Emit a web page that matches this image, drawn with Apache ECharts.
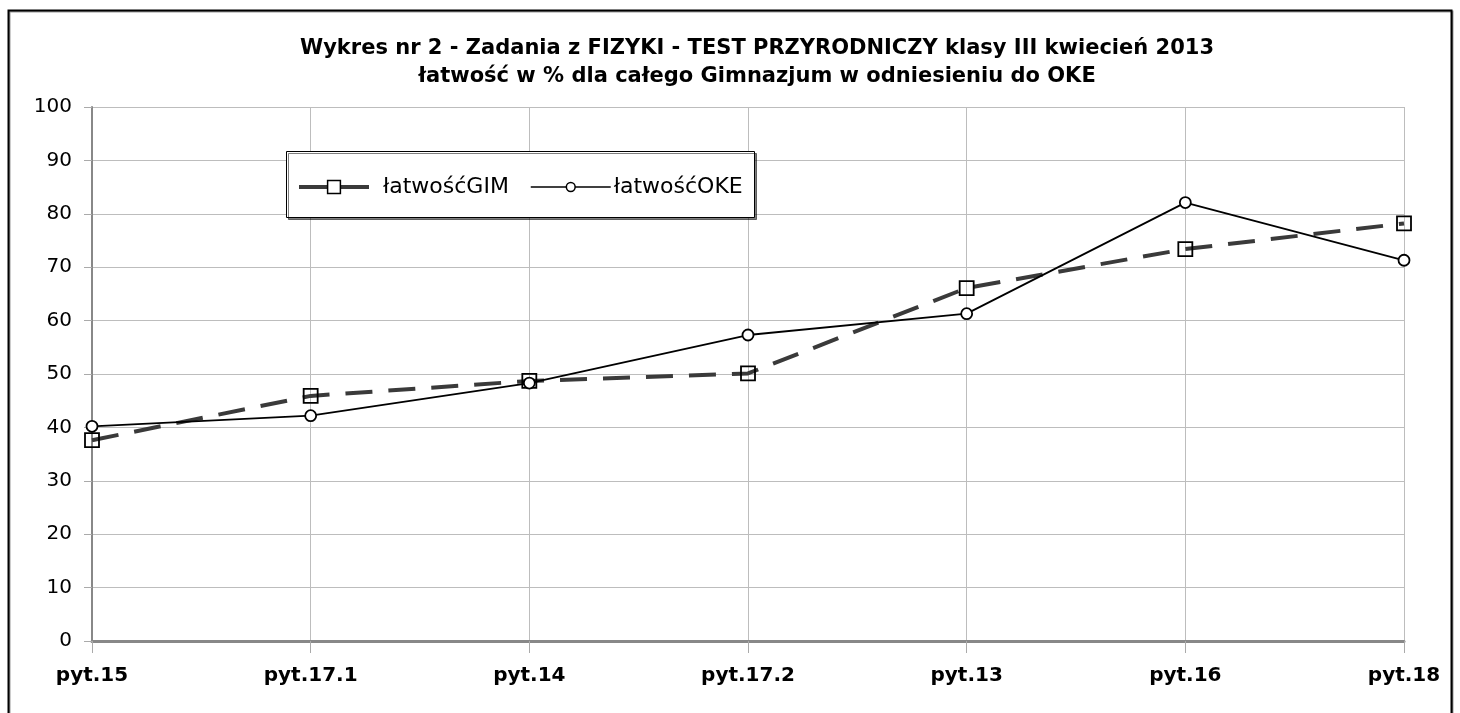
<!DOCTYPE html>
<html>
<head>
<meta charset="utf-8">
<script src="https://cdn.jsdelivr.net/npm/echarts@6/dist/echarts.min.js"></script>
<style>
html,body{margin:0;padding:0;background:#fff;}
#chart{width:1460px;height:713px;}
</style>
</head>
<body>
<div id="chart"></div>
<script>
const categories = ['pyt.15','pyt.17.1','pyt.14','pyt.17.2','pyt.13','pyt.16','pyt.18'];
const gimValues = [37.6, 45.9, 48.7, 50.1, 66.1, 73.4, 78.2];
const okeValues = [40.2, 42.2, 48.3, 57.3, 61.3, 82.1, 71.3];
const seriesNames = ['łatwośćGIM', 'łatwośćOKE'];
const titleText = 'Wykres nr 2 - Zadania z FIZYKI - TEST PRZYRODNICZY klasy III kwiecień 2013\nłatwość w % dla całego Gimnazjum w odniesieniu do OKE';

const chart = echarts.init(document.getElementById('chart'), null, {renderer:'canvas'});
const FONT = 'DejaVu Sans';
chart.setOption({
  backgroundColor: '#fff',
  animation: false,
  title: {
    text: titleText,
    left: 752,
    top: 30,
    padding: 5,
    textAlign: 'center',
    textStyle: {fontFamily: FONT, fontWeight: 'bold', fontSize: 21, color: '#000', lineHeight: 28}
  },
  graphic: [
    {type:'rect', z: -1, silent:true, shape:{x:8.5, y:10.5, width:1443, height:740},
     style:{fill:'#fff', stroke:'#000', lineWidth:2, shadowColor:'rgba(0,0,0,0.4)', shadowBlur:0, shadowOffsetX:1, shadowOffsetY:1}},
    {type:'rect', z: 3, silent:true, shape:{x:286.5, y:151.5, width:468, height:66},
     style:{fill:'#fff', stroke:'#000', lineWidth:1, shadowColor:'rgba(0,0,0,0.5)', shadowBlur:0, shadowOffsetX:2, shadowOffsetY:2}}
  ],
  legend: [
    {data:[seriesNames[0]], left: 297, top: 176, itemWidth: 70, itemHeight: 16, padding: 0,
     lineStyle:{type:'solid', width:4, color:'#3a3a3a'},
     itemStyle:{color:'#fff', borderColor:'#000', borderWidth:1.5},
     textStyle:{fontFamily: FONT, fontSize: 22, color:'#000', padding:[0,0,0,9]}},
    {data:[seriesNames[1]], left: 530, top: 176, itemWidth: 80, itemHeight: 11, padding: 0,
     lineStyle:{type:'solid', width:1.5, color:'#000'},
     itemStyle:{color:'#fff', borderColor:'#000', borderWidth:1.5},
     textStyle:{fontFamily: FONT, fontSize: 22, color:'#000', padding:[0,0,0,-2]}}
  ],
  grid: {left: 92, right: 56, top: 107, bottom: 72, containLabel: false},
  xAxis: {
    type: 'category',
    data: categories,
    boundaryGap: false,
    axisLine: {lineStyle:{color:'#888', width:3}},
    axisTick: {show:true, length: 12, alignWithLabel: true, lineStyle:{color:'#aaa', width:1}},
    axisLabel: {fontFamily: FONT, fontWeight:'bold', fontSize: 20, color:'#000', margin: 25},
    splitLine: {show:true, lineStyle:{color:'#bdbdbd', width:1}}
  },
  yAxis: {
    type: 'value',
    min: 0, max: 100, interval: 10,
    axisLine: {show:true, lineStyle:{color:'#888', width:2}},
    axisTick: {show:true, length: 8, lineStyle:{color:'#aaa', width:1}},
    axisLabel: {fontFamily: FONT, fontSize: 20, color:'#000', margin: 20},
    splitLine: {show:true, lineStyle:{color:'#bdbdbd', width:1}}
  },
  series: [
    {name: seriesNames[0], type:'line', data: gimValues, z: 5,
     symbol:'rect', symbolSize: 14,
     lineStyle:{color:'#3a3a3a', width:4, type:[27,16], cap:'butt'},
     itemStyle:{color:'rgba(0,0,0,0)', borderColor:'#000', borderWidth:1.8}},
    {name: seriesNames[1], type:'line', data: okeValues, z: 6,
     symbol:'circle', symbolSize: 11,
     lineStyle:{color:'#000', width:1.8},
     itemStyle:{color:'#fff', borderColor:'#000', borderWidth:1.8}}
  ]
});
</script>
</body>
</html>
